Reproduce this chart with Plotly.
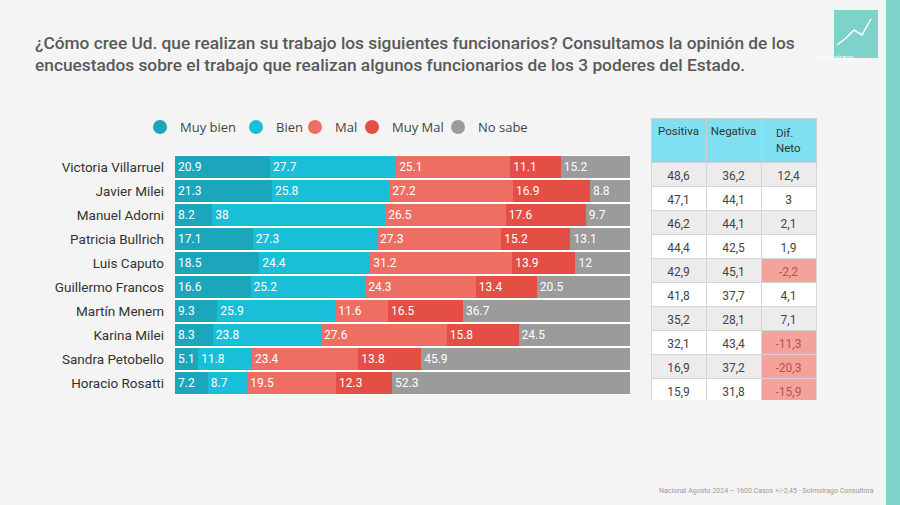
import plotly.graph_objects as go

W, H = 900, 505

names = ["Victoria Villarruel", "Javier Milei", "Manuel Adorni", "Patricia Bullrich",
         "Luis Caputo", "Guillermo Francos", "Martín Menem", "Karina Milei",
         "Sandra Petobello", "Horacio Rosatti"]
muy_bien = [20.9, 21.3, 8.2, 17.1, 18.5, 16.6, 9.3, 8.3, 5.1, 7.2]
bien = [27.7, 25.8, 38, 27.3, 24.4, 25.2, 25.9, 23.8, 11.8, 8.7]
mal = [25.1, 27.2, 26.5, 27.3, 31.2, 24.3, 11.6, 27.6, 23.4, 19.5]
muy_mal = [11.1, 16.9, 17.6, 15.2, 13.9, 13.4, 16.5, 15.8, 13.8, 12.3]
no_sabe = [15.2, 8.8, 9.7, 13.1, 12, 20.5, 36.7, 24.5, 45.9, 52.3]

positiva = [48.6, 47.1, 46.2, 44.4, 42.9, 41.8, 35.2, 32.1, 16.9, 15.9]
negativa = [36.2, 44.1, 44.1, 42.5, 45.1, 37.7, 28.1, 43.4, 37.2, 31.8]
dif_neto = [12.4, 3, 2.1, 1.9, -2.2, 4.1, 7.1, -11.3, -20.3, -15.9]

series_names = ["Muy bien", "Bien", "Mal", "Muy Mal", "No sabe"]
series_vals = [muy_bien, bien, mal, muy_mal, no_sabe]
colors = ["#1ba6bb", "#19bfd8", "#ef6e64", "#e54e45", "#9b9b9b"]
legend_px = [140, 236, 295, 352, 438]  # left edge of each legend box

def px_x(p):
    return p / W

def px_y(p):
    return 1 - p / H

def fmt(v):
    return f"{v:g}".replace(".", ",")

fig = go.Figure()

legend_layout = {}
for i, (nm, vals, c) in enumerate(zip(series_names, series_vals, colors)):
    lg = "legend" if i == 0 else f"legend{i + 1}"
    fig.add_trace(go.Bar(
        y=names, x=vals, orientation="h", name=nm,
        marker=dict(color=c, line=dict(width=0)),
        text=vals, texttemplate="%{x}", textposition="inside",
        insidetextanchor="start", textangle=0,
        textfont=dict(color="white", size=12, family="Roboto"),
        showlegend=False, hoverinfo="x+y",
    ))
    fig.add_trace(go.Scatter(
        x=[None], y=[None], mode="markers", name=nm, legend=lg,
        marker=dict(color=c, size=14, symbol="circle"),
        showlegend=True,
    ))
    legend_layout[lg] = dict(
        orientation="h", x=px_x(legend_px[i]), y=px_y(127), yanchor="middle",
        xanchor="left", bgcolor="rgba(0,0,0,0)",
        font=dict(size=13, color="#444444", family="Open Sans"),
        itemwidth=30,
    )

# table
pos_txt = [fmt(v) for v in positiva]
neg_txt = [fmt(v) for v in negativa]
dif_txt = [fmt(v) for v in dif_neto]
row_fill = ["#ececec" if i % 2 == 0 else "#ffffff" for i in range(len(names))]
dif_fill = ["#f3a39c" if v < 0 else row_fill[i] for i, v in enumerate(dif_neto)]
dif_font = ["#c0504d" if v < 0 else "#444444" for v in dif_neto]

fig.add_trace(go.Table(
    domain=dict(x=[px_x(651), px_x(817)], y=[px_y(400), px_y(118)]),
    columnwidth=[1, 1, 1],
    header=dict(
        values=["Positiva", "Negativa", "Dif.<br>Neto"],
        fill_color="#7fe0f2", line=dict(color="#cfcfcf", width=1),
        font=dict(color="#333333", size=11.5, family="Roboto"),
        align="center", height=39,
    ),
    cells=dict(
        values=[pos_txt, neg_txt, dif_txt],
        fill_color=[row_fill, row_fill, dif_fill],
        line=dict(color="#d5d5d5", width=1),
        font=dict(color=["#444444", "#444444", dif_font], size=12, family="Roboto"),
        align="center", height=24,
    ),
))

fig.update_layout(
    width=W, height=H,
    margin=dict(l=0, r=0, t=0, b=0),
    paper_bgcolor="#f4f4f4", plot_bgcolor="#ffffff",
    barmode="stack", bargap=0.1,
    xaxis=dict(domain=[px_x(175), px_x(630)], range=[0, 100], visible=False,
               fixedrange=True),
    yaxis=dict(domain=[px_y(395), px_y(155)], autorange="reversed",
               showgrid=False, zeroline=False, showline=False,
               ticks="", ticklabelstandoff=10,
               tickfont=dict(size=13.5, color="#333333", family="Roboto")),
    uniformtext=dict(minsize=12, mode="show"),
    font=dict(family="Roboto"),
    showlegend=True,
    **legend_layout,
)

# title
fig.add_annotation(
    text="¿Cómo cree Ud. que realizan su trabajo los siguientes funcionarios? Consultamos la opinión de los<br>"
         "encuestados sobre el trabajo que realizan algunos funcionarios de los 3 poderes del Estado.",
    xref="paper", yref="paper", x=px_x(33), y=px_y(31), xanchor="left", yanchor="top",
    align="left", showarrow=False,
    font=dict(size=17.3, color="#595959", family="Roboto", weight=500),
)

# footer
fig.add_annotation(
    text="Nacional Agosto 2024 – 1600 Casos +/-2,45 - Solmoirago Consultora",
    xref="paper", yref="paper", x=px_x(876), y=px_y(491), xanchor="right", yanchor="middle",
    showarrow=False, font=dict(size=7, color="#9a9a9a", family="Roboto"),
)

# right stripe
fig.add_shape(type="rect", xref="paper", yref="paper",
              x0=px_x(886), x1=1, y0=0, y1=1,
              fillcolor="#7dd3ca", line=dict(width=0), layer="below")

# logo
fig.add_shape(type="rect", xref="paper", yref="paper",
              x0=px_x(834), x1=px_x(878), y0=px_y(58), y1=px_y(10),
              fillcolor="#7dd3ca", line=dict(width=0))
fig.add_shape(type="path", xref="paper", yref="paper",
              path=f"M {px_x(837)},{px_y(45)} L {px_x(846)},{px_y(38)} L {px_x(854)},{px_y(30)} "
                   f"L {px_x(862)},{px_y(35)} L {px_x(871)},{px_y(19)}",
              line=dict(color="white", width=1.5))
fig.add_annotation(text="Solmoirago", xref="paper", yref="paper",
                   x=px_x(856), y=px_y(52), showarrow=False,
                   font=dict(size=7, color="white", family="Roboto"))

fig.write_html("out.html", config={"displayModeBar": False},
               post_script="document.body.style.margin='0';document.body.style.overflow='hidden';")
